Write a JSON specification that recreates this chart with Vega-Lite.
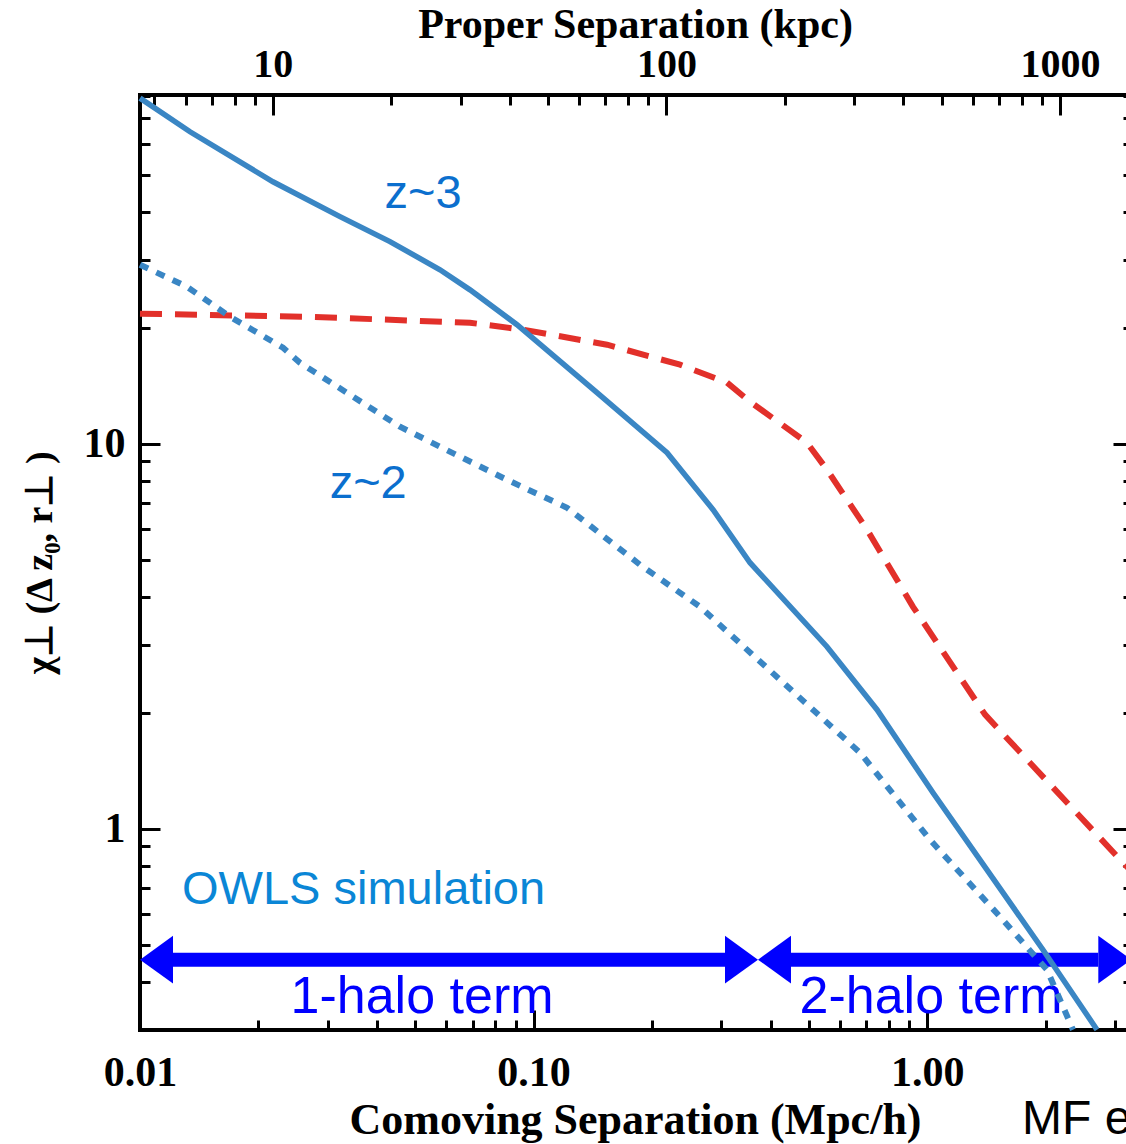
{
  "$schema": "https://vega.github.io/schema/vega-lite/v6.json",
  "width": 990,
  "height": 935,
  "autosize": {"type": "none"},
  "padding": {"left": 140, "top": 95, "right": -4, "bottom": 114},
  "background": "white",
  "config": {"view": {"stroke": "black", "strokeWidth": 4}},
  "datasets": {
    "z3": [
      {"x": 0.01, "y": 79}, {"x": 0.0134, "y": 64.6}, {"x": 0.02177, "y": 47.9}, {"x": 0.03222, "y": 38.9},
      {"x": 0.04316, "y": 33.5}, {"x": 0.05784, "y": 28.3}, {"x": 0.06894, "y": 25.1}, {"x": 0.09074, "y": 20.38},
      {"x": 0.1449, "y": 13.57}, {"x": 0.2183, "y": 9.475}, {"x": 0.2857, "y": 6.74}, {"x": 0.3547, "y": 4.908},
      {"x": 0.5564, "y": 2.97}, {"x": 0.7456, "y": 2.037}, {"x": 1.0344, "y": 1.24}, {"x": 1.968, "y": 0.4849},
      {"x": 2.7, "y": 0.3005}
    ],
    "z2": [
      {"x": 0.01, "y": 29.17}, {"x": 0.01316, "y": 25.57}, {"x": 0.01693, "y": 21.37}, {"x": 0.02309, "y": 17.76},
      {"x": 0.0255, "y": 16.23}, {"x": 0.04576, "y": 11.07}, {"x": 0.05784, "y": 9.82}, {"x": 0.0856, "y": 8.06},
      {"x": 0.1216, "y": 6.82}, {"x": 0.1863, "y": 4.85}, {"x": 0.2648, "y": 3.77}, {"x": 0.4227, "y": 2.438},
      {"x": 0.6752, "y": 1.575}, {"x": 1.0165, "y": 0.936}, {"x": 1.531, "y": 0.5907}, {"x": 2.015, "y": 0.4303},
      {"x": 2.346, "y": 0.3005}
    ],
    "red": [
      {"x": 0.01, "y": 21.76}, {"x": 0.02656, "y": 21.37}, {"x": 0.06894, "y": 20.62}, {"x": 0.094, "y": 19.78},
      {"x": 0.1537, "y": 18.08}, {"x": 0.2355, "y": 16.04}, {"x": 0.31, "y": 14.41}, {"x": 0.3547, "y": 12.86},
      {"x": 0.495, "y": 10.06}, {"x": 0.5564, "y": 8.56}, {"x": 0.7034, "y": 5.98}, {"x": 0.9203, "y": 3.77},
      {"x": 1.403, "y": 1.978}, {"x": 3.144, "y": 0.8161}, {"x": 3.3, "y": 0.775}
    ],
    "shafts": [
      {"x": 0.0121, "x2": 0.307, "y": 0.457},
      {"x": 0.45, "x2": 2.72, "y": 0.457}
    ],
    "heads": [
      {"x": 0.01, "y": 0.457, "dir": "left"},
      {"x": 0.3716, "y": 0.457, "dir": "right"},
      {"x": 0.3716, "y": 0.457, "dir": "left"},
      {"x": 3.3, "y": 0.457, "dir": "right"}
    ],
    "halo": [
      {"x": 0.05206, "y": 0.3662, "label": "1-halo term"},
      {"x": 1.0225, "y": 0.3662, "label": "2-halo term"}
    ],
    "zlabels": [
      {"x": 0.0524, "y": 44.4, "label": "z~3"},
      {"x": 0.038, "y": 7.87, "label": "z~2"}
    ],
    "owls": [{"x": 0.01279, "y": 0.694, "label": "OWLS simulation"}],
    "mf": [{"x": 1.741, "y": 0.1754, "label": "MF e"}],
    "topaxis": [{"kpc": 10, "chi": 1}]
  },
  "resolve": {"scale": {"x": "independent"}, "axis": {"x": "independent", "y": "independent"}},
  "layer": [
    {
      "encoding": {
        "x": {
          "field": "x", "type": "quantitative",
          "scale": {"type": "log", "domain": [0.01, 3.275], "nice": false},
          "axis": {
            "orient": "bottom",
            "values": [0.01,0.02,0.03,0.04,0.05,0.06,0.07,0.08,0.09,0.1,0.2,0.3,0.4,0.5,0.6,0.7,0.8,0.9,1,2,3],
            "domain": false, "grid": false,
            "tickColor": "black", "tickWidth": 3,
            "tickSize": {"condition": {"test": "abs(log(datum.value)/LN10 - round(log(datum.value)/LN10)) < 0.001", "value": -20}, "value": -10},
            "labelExpr": "abs(log(datum.value)/LN10 - round(log(datum.value)/LN10)) < 0.001 ? format(datum.value, '.2f') : ''",
            "labelFont": "Liberation Serif", "labelFontWeight": "bold", "labelFontSize": 42, "labelColor": "black",
            "labelPadding": 62, "labelBaseline": "middle", "labelFlush": false, "labelOverlap": false, "labelBound": false,
            "title": "Comoving Separation (Mpc/h)",
            "titleFont": "Liberation Serif", "titleFontWeight": "bold", "titleFontSize": 44, "titleColor": "black",
            "titleY": 90, "titleBaseline": "middle"
          }
        },
        "y": {
          "field": "y", "type": "quantitative",
          "scale": {"type": "log", "domain": [0.3, 80.5], "nice": false},
          "axis": {
            "orient": "left",
            "values": [0.3,0.4,0.5,0.6,0.7,0.8,0.9,1,2,3,4,5,6,7,8,9,10,20,30,40,50,60,70,80],
            "domain": false, "grid": false,
            "tickColor": "black", "tickWidth": 3,
            "tickSize": {"condition": {"test": "abs(log(datum.value)/LN10 - round(log(datum.value)/LN10)) < 0.001", "value": -20}, "value": -10},
            "labelExpr": "abs(log(datum.value)/LN10 - round(log(datum.value)/LN10)) < 0.001 ? format(datum.value, 'd') : ''",
            "labelFont": "Liberation Serif", "labelFontWeight": "bold", "labelFontSize": 42, "labelColor": "black",
            "labelPadding": 35, "labelFlush": false, "labelOverlap": false, "labelBound": false,
            "title": "χ⊥ (Δ z₀, r⊥ )",
            "titleFont": "Liberation Serif", "titleFontWeight": "bold", "titleFontSize": 38, "titleColor": "black",
            "titleX": -100, "titleBaseline": "middle", "titleAngle": -90
          }
        }
      },
      "layer": [
        {
          "data": {"name": "shafts"},
          "mark": {"type": "rule", "color": "#0000ff", "strokeWidth": 14, "strokeCap": "butt"},
          "encoding": {"x2": {"field": "x2"}}
        },
        {
          "data": {"name": "heads"},
          "transform": [{"filter": "datum.dir == 'left'"}],
          "mark": {"type": "point", "shape": "M0,0L2,-1.45L2,1.45Z", "size": 1089, "filled": true, "color": "#0000ff", "opacity": 1, "strokeWidth": 0}
        },
        {
          "data": {"name": "heads"},
          "transform": [{"filter": "datum.dir == 'right'"}],
          "mark": {"type": "point", "shape": "M0,0L-2,-1.45L-2,1.45Z", "size": 1089, "filled": true, "color": "#0000ff", "opacity": 1, "strokeWidth": 0}
        },
        {
          "data": {"name": "halo"},
          "mark": {"type": "text", "font": "Liberation Sans", "fontSize": 52, "color": "#0000ff", "align": "center", "baseline": "middle"},
          "encoding": {"text": {"field": "label"}}
        },
        {
          "data": {"name": "zlabels"},
          "mark": {"type": "text", "font": "Liberation Sans", "fontSize": 47, "color": "#0b6fce", "align": "center", "baseline": "middle"},
          "encoding": {"text": {"field": "label"}}
        },
        {
          "data": {"name": "owls"},
          "mark": {"type": "text", "font": "Liberation Sans", "fontSize": 47, "color": "#0a86d6", "align": "left", "baseline": "middle"},
          "encoding": {"text": {"field": "label"}}
        },
        {
          "data": {"name": "mf"},
          "mark": {"type": "text", "font": "Liberation Sans", "fontSize": 48, "color": "black", "align": "left", "baseline": "middle"},
          "encoding": {"text": {"field": "label"}}
        },
        {
          "data": {"name": "red"},
          "mark": {"type": "line", "color": "#e2302a", "strokeWidth": 6, "strokeDash": [22, 13], "strokeCap": "butt"}
        },
        {
          "data": {"name": "z2"},
          "mark": {"type": "line", "color": "#3a86c4", "strokeWidth": 6, "strokeDash": [9, 9], "strokeCap": "butt"}
        },
        {
          "data": {"name": "z3"},
          "mark": {"type": "line", "color": "#3a86c4", "strokeWidth": 5.5}
        }
      ]
    },
    {
      "data": {"name": "topaxis"},
      "mark": {"type": "point", "opacity": 0},
      "encoding": {
        "x": {
          "field": "kpc", "type": "quantitative",
          "scale": {"type": "log", "domain": [4.597, 1505.5], "nice": false},
          "axis": {
            "orient": "top",
            "values": [5,6,7,8,9,10,20,30,40,50,60,70,80,90,100,200,300,400,500,600,700,800,900,1000],
            "domain": false, "grid": false,
            "tickColor": "black", "tickWidth": 3,
            "tickSize": {"condition": {"test": "abs(log(datum.value)/LN10 - round(log(datum.value)/LN10)) < 0.001", "value": -20}, "value": -10},
            "labelExpr": "abs(log(datum.value)/LN10 - round(log(datum.value)/LN10)) < 0.001 ? format(datum.value, 'd') : ''",
            "labelFont": "Liberation Serif", "labelFontWeight": "bold", "labelFontSize": 40, "labelColor": "black",
            "labelPadding": 51, "labelBaseline": "middle", "labelFlush": false, "labelOverlap": false, "labelBound": false,
            "title": "Proper Separation (kpc)",
            "titleFont": "Liberation Serif", "titleFontWeight": "bold", "titleFontSize": 42, "titleColor": "black",
            "titleY": -71, "titleBaseline": "middle"
          }
        },
        "y": {
          "field": "chi", "type": "quantitative",
          "scale": {"type": "log", "domain": [0.3, 80.5], "nice": false},
          "axis": {
            "orient": "right",
            "values": [0.3,0.4,0.5,0.6,0.7,0.8,0.9,1,2,3,4,5,6,7,8,9,10,20,30,40,50,60,70,80],
            "domain": false, "grid": false, "labels": false, "title": null,
            "tickColor": "black", "tickWidth": 3,
            "tickSize": {"condition": {"test": "abs(log(datum.value)/LN10 - round(log(datum.value)/LN10)) < 0.001", "value": -17}, "value": -7}
          }
        }
      }
    }
  ]
}
